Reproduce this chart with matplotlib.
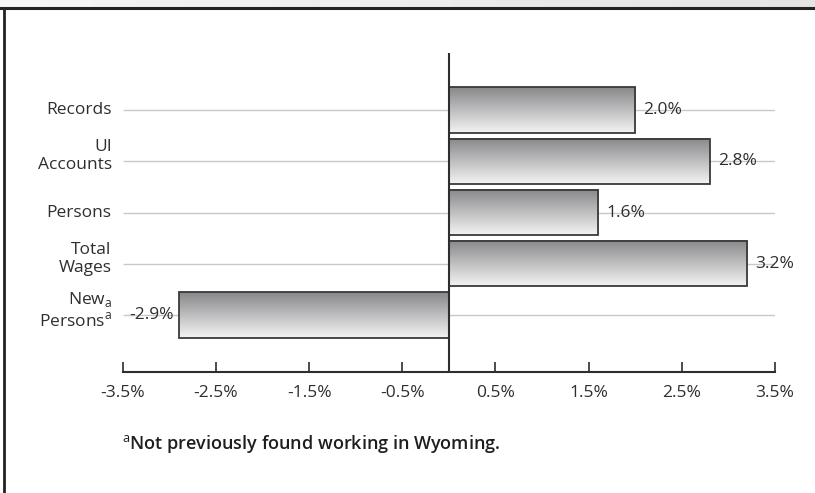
import numpy as np
import matplotlib.pyplot as plt
from matplotlib.colors import LinearSegmentedColormap
from matplotlib.lines import Line2D

categories = ['Records', 'UI\nAccounts', 'Persons', 'Total\nWages',
              'New$_{\\rm a}$\nPersons$^{\\rm a}$']
values = [2.0, 2.8, 1.6, 3.2, -2.9]
value_labels = ['2.0%', '2.8%', '1.6%', '3.2%', '-2.9%']
tick_values = [-3.5, -2.5, -1.5, -0.5, 0.5, 1.5, 2.5, 3.5]
tick_labels = ['-3.5%', '-2.5%', '-1.5%', '-0.5%', '0.5%', '1.5%', '2.5%', '3.5%']
footnote = '$^{\\rm a}$Not previously found working in Wyoming.'

plt.rcParams['font.family'] = ['Open Sans', 'DejaVu Sans']
plt.rcParams['mathtext.fontset'] = 'custom'
plt.rcParams['mathtext.rm'] = 'Open Sans'

dark = '#2e2e2e'
fs = 12.5
fig = plt.figure(figsize=(8.15, 4.93), dpi=100)

# grey strip and frame lines along the top and left
band = fig.add_axes([0, 1 - 7 / 493, 1, 7 / 493])
band.imshow(np.linspace(0, 1, 256).reshape(1, -1), aspect='auto',
            cmap=LinearSegmentedColormap.from_list('band', ['#f6f6f6', '#e4e4e4']))
band.axis('off')
fig.add_artist(Line2D([0, 1], [1 - 8 / 493] * 2, color='#222222', lw=2.2))
fig.add_artist(Line2D([4 / 815] * 2, [0, 1 - 8 / 493], color='#222222', lw=2.0))

ax = fig.add_axes([0.1506, 0.2454, 0.8003, 0.6471])
ypos = np.arange(len(values))
h = 0.88

ax.hlines(ypos, -3.5, 3.5, color='#c8c8c8', lw=1, zorder=1)

grad = np.linspace(0, 1, 256).reshape(-1, 1)
bar_cmap = LinearSegmentedColormap.from_list('bar', ['#88888b', '#f4f4f4'])
for y, v in zip(ypos, values):
    x0, x1 = sorted([0, v])
    ax.imshow(grad, cmap=bar_cmap, extent=(x0, x1, y + h / 2, y - h / 2),
              aspect='auto', zorder=2)
ax.barh(ypos, values, height=h, facecolor='none', edgecolor='#3a3a3a',
        linewidth=1.3, zorder=3)

ax.axvline(0, color=dark, lw=1.5, zorder=4)

for y, v, lab in zip(ypos, values, value_labels):
    off = 8 if v >= 0 else -5
    ax.annotate(lab, (v, y), xytext=(off, 0), textcoords='offset pixels',
                ha='left' if v >= 0 else 'right', va='center',
                fontsize=fs, color=dark, zorder=5)

for y, lab in zip(ypos, categories):
    dy = 5 if '\n' in lab else 0
    ax.annotate(lab, (0, y), xycoords=('axes fraction', 'data'),
                xytext=(-11, dy), textcoords='offset pixels',
                ha='right', va='center', multialignment='right',
                fontsize=fs, color=dark, linespacing=1.15)

ax.set_xlim(-3.5, 3.5)
ax.set_ylim(len(values) - 1 + 1.112, -1.112)
ax.set_xticks(tick_values)
ax.set_xticklabels(tick_labels)
ax.set_yticks([])
ax.tick_params(axis='x', direction='in', length=7, width=1.2, color=dark,
               labelcolor=dark, labelsize=fs, pad=9)
for s in ['left', 'top', 'right']:
    ax.spines[s].set_visible(False)
ax.spines['bottom'].set_color(dark)
ax.spines['bottom'].set_linewidth(1.5)

fig.text(122 / 815, 1 - 444 / 493, footnote, ha='left', va='center',
         fontsize=13, color='#1e1e1e', fontweight='semibold')

fig.savefig('out.png', dpi=100)
